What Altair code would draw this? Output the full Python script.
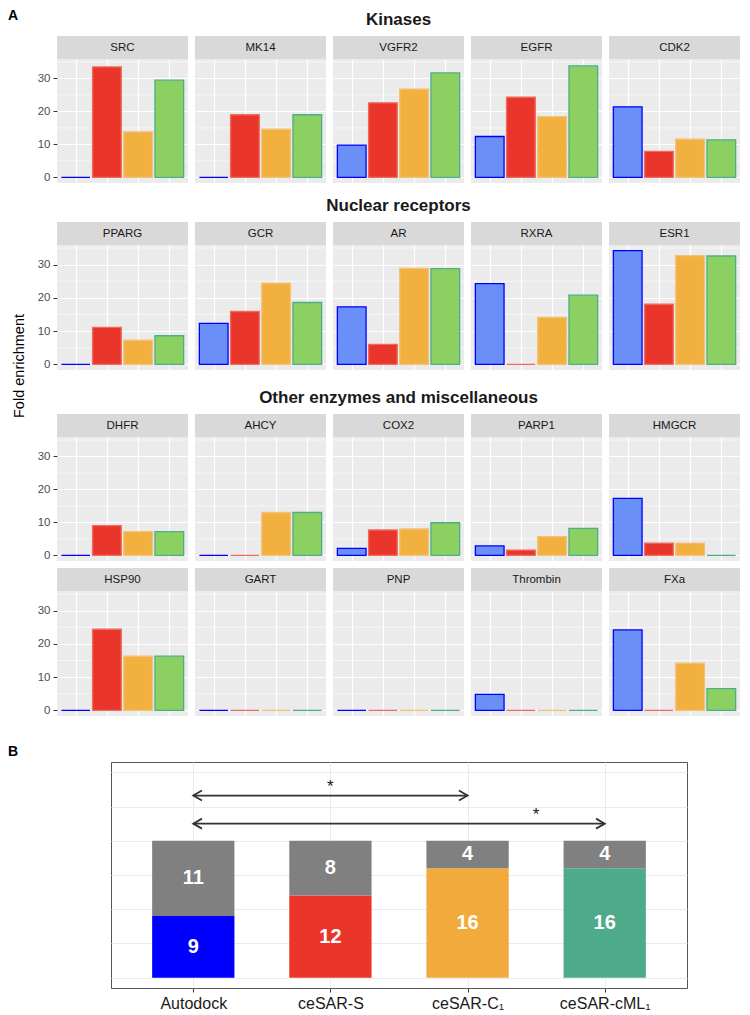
import json
import altair as alt
import pandas as pd

# ---------------- data ----------------
methods = ["Autodock", "ceSAR-S", "ceSAR-C1", "ceSAR-cML1"]
method_pos = [1, 2, 3, 4]
fill_colors = ["#6A8FF7", "#E9352A", "#F2B03F", "#8DD062"]
stroke_colors = ["#0000FF", "#EE6B5F", "#F4C076", "#4DAE8A"]

targets = ["SRC", "MK14", "VGFR2", "EGFR", "CDK2",
           "PPARG", "GCR", "AR", "RXRA", "ESR1",
           "DHFR", "AHCY", "COX2", "PARP1", "HMGCR",
           "HSP90", "GART", "PNP", "Thrombin", "FXa"]
autodock = [0, 0, 9.8, 12.4, 21.4,
            0, 12.3, 17.3, 24.3, 34.2,
            0, 0, 2.1, 2.9, 17.3,
            0, 0, 0, 4.8, 24.2]
cesar_s = [33.5, 19.0, 22.6, 24.3, 7.9,
           11.1, 15.9, 6.0, 0, 18.1,
           9.0, 0, 7.7, 1.6, 3.7,
           24.4, 0, 0, 0, 0]
cesar_c1 = [13.8, 14.6, 26.8, 18.4, 11.6,
            7.25, 24.4, 28.9, 14.1, 32.7,
            7.2, 13.0, 8.0, 5.7, 3.7,
            16.3, 0, 0, 0, 14.2]
cesar_cml1 = [29.5, 19.0, 31.7, 33.8, 11.4,
              8.6, 18.6, 28.8, 20.8, 32.6,
              7.2, 13.0, 9.9, 8.2, 0,
              16.3, 0, 0, 0, 6.5]

row_titles = ["Kinases", "Nuclear receptors", "Other enzymes and miscellaneous", ""]
y_title = "Fold enrichment"
y_major = [0, 10, 20, 30]
y_minor = [5, 15, 25, 35]
y_domain = [-1.71, 35.91]

b_labels = ["Autodock", "ceSAR-S", "ceSAR-C\u2081", "ceSAR-cML\u2081"]
b_hits = [9, 12, 16, 16]
b_misses = [11, 8, 4, 4]
b_hit_colors = ["#0000FF", "#E9352A", "#F2AA3C", "#4DAB8C"]
b_miss_color = "#808080"
b_grid = [0, 5, 10, 15, 20, 25, 30]
arrow_from = [1, 1]
arrow_to = [3, 4]
arrow_y = [26.6, 22.5]
star_x = [2, 3.5]
star_y = [27.9, 23.8]
star_text = ["*", "*"]

FONT = "Liberation Sans"
PW = 131
PGAP = 7
PH = [124, 125, 124, 125]
GAP_ABOVE = [51, 62, 67, 30]


def panel(i, first, row):
    df = pd.DataFrame({"method": methods, "pos": method_pos,
                       "val": [autodock[i], cesar_s[i], cesar_c1[i], cesar_cml1[i]]})
    ys = alt.Scale(domain=y_domain, nice=False, zero=False)
    xs = alt.Scale(domain=[0.4, 4.6], nice=False, zero=False)
    if first:
        yax = alt.Axis(values=y_major, grid=True, gridColor="white", gridWidth=1.2,
                       domain=False, ticks=True, tickColor="#333333", tickSize=4,
                       tickWidth=1, labelColor="#4D4D4D", labelFontSize=11.5,
                       labelPadding=3, title="")
    else:
        yax = alt.Axis(values=y_major, grid=True, gridColor="white", gridWidth=1.2,
                       domain=False, ticks=False, labels=False, title="")
    xax = alt.Axis(values=method_pos, grid=True, gridColor="white", gridWidth=1.2,
                   domain=False, ticks=False, labels=False, title="")
    minor = alt.Chart(pd.DataFrame({"val": y_minor})).mark_rule(
        color="white", strokeWidth=0.6).encode(y=alt.Y("val:Q", scale=ys, axis=yax))
    bars = alt.Chart(df).transform_calculate(
        x0="datum.pos - 0.46", x1="datum.pos + 0.46"
    ).mark_rect(strokeWidth=1.3).encode(
        x=alt.X("x0:Q", scale=xs, axis=xax), x2="x1:Q",
        y=alt.Y("val:Q", scale=ys, axis=yax), y2=alt.datum(0),
        fill=alt.Fill("method:N", scale=alt.Scale(domain=methods, range=fill_colors)),
        stroke=alt.Stroke("method:N", scale=alt.Scale(domain=methods, range=stroke_colors)),
    )
    lab = pd.DataFrame({"t": [targets[i]]})
    strip = alt.Chart(lab).mark_rect(color="#D9D9D9").encode(
        x=alt.value(0), x2=alt.value(PW), y=alt.value(-23), y2=alt.value(0))
    strip_text = alt.Chart(lab).mark_text(fontSize=11.5, color="#1A1A1A").encode(
        text="t:N", x=alt.value(PW / 2), y=alt.value(-11.5))
    layers = [minor, bars, strip, strip_text]
    if first:
        pad = alt.Chart(lab).mark_rect(opacity=0).encode(
            x=alt.value(0), x2=alt.value(1), y=alt.value(-GAP_ABOVE[row]), y2=alt.value(0))
        layers.append(pad)
        if row_titles[row]:
            tt = alt.Chart(pd.DataFrame({"t": [row_titles[row]]})).mark_text(
                fontSize=17, fontWeight="bold", color="#1A1A1A").encode(
                text="t:N", x=alt.value((5 * PW + 4 * PGAP) / 2), y=alt.value(-39))
            layers.append(tt)
    return alt.layer(*layers).properties(
        width=PW, height=PH[row],
        view=alt.ViewBackground(fill="#EBEBEB", strokeWidth=0))


rows = []
for r in range(4):
    panels = [panel(r * 5 + c, c == 0, r) for c in range(5)]
    rows.append(alt.hconcat(*panels, spacing=PGAP, bounds="flush"))

# ---------------- panel B ----------------
recs = []
for k in range(4):
    recs.append({"bpos": method_pos[k], "lo": 0, "hi": b_hits[k], "seg": methods[k], "n": b_hits[k]})
    recs.append({"bpos": method_pos[k], "lo": b_hits[k], "hi": b_hits[k] + b_misses[k],
                 "seg": "miss", "n": b_misses[k]})
bdf = pd.DataFrame(recs)

bxs = alt.Scale(domain=[0.4, 4.6], nice=False, zero=False)
bys = alt.Scale(domain=[-1.5, 31.5], nice=False, zero=False)
label_expr = json.dumps(b_labels, ensure_ascii=False) + "[datum.value - 1]"
bxax = alt.Axis(values=method_pos, labelExpr=label_expr, grid=True, gridColor="#EBEBEB",
                gridWidth=1, domain=False, ticks=True, tickColor="#333333", tickSize=4,
                labelFontSize=16, labelColor="#1A1A1A", labelPadding=3, labelFlush=False,
                title="")
byax = alt.Axis(values=b_grid, grid=True, gridColor="#EBEBEB", gridWidth=1, domain=False,
                ticks=False, labels=False, title="")

b_bars = alt.Chart(bdf).transform_calculate(
    bx0="datum.bpos - 0.3", bx1="datum.bpos + 0.3"
).mark_rect().encode(
    x=alt.X("bx0:Q", scale=bxs, axis=bxax), x2="bx1:Q",
    y=alt.Y("lo:Q", scale=bys, axis=byax), y2="hi:Q",
    fill=alt.Fill("seg:N", scale=alt.Scale(domain=methods + ["miss"],
                                          range=b_hit_colors + [b_miss_color])),
)
b_text = alt.Chart(bdf).transform_calculate(mid="(datum.lo + datum.hi) / 2").mark_text(
    color="white", fontSize=20, fontWeight="bold").encode(
    x=alt.X("bpos:Q", scale=bxs, axis=bxax),
    y=alt.Y("mid:Q", scale=bys, axis=byax),
    text="n:Q")
adf = pd.DataFrame({"ax0": arrow_from, "ax1": arrow_to, "ay": arrow_y})
a_line = alt.Chart(adf).mark_rule(color="#333333", strokeWidth=1.8).encode(
    x=alt.X("ax0:Q", scale=bxs, axis=bxax), x2="ax1:Q",
    y=alt.Y("ay:Q", scale=bys, axis=byax))
a_left = alt.Chart(adf).mark_point(shape="M1.732,-1L0,0L1.732,1", filled=False, size=100,
                                   strokeWidth=1.8, color="#333333", opacity=1).encode(
    x=alt.X("ax0:Q", scale=bxs, axis=bxax), y=alt.Y("ay:Q", scale=bys, axis=byax))
a_right = alt.Chart(adf).mark_point(shape="M-1.732,-1L0,0L-1.732,1", filled=False, size=100,
                                    strokeWidth=1.8, color="#333333", opacity=1).encode(
    x=alt.X("ax1:Q", scale=bxs, axis=bxax), y=alt.Y("ay:Q", scale=bys, axis=byax))
sdf = pd.DataFrame({"sx": star_x, "sy": star_y, "st": star_text})
stars = alt.Chart(sdf).mark_text(fontSize=17, color="#1A1A1A").encode(
    x=alt.X("sx:Q", scale=bxs, axis=bxax), y=alt.Y("sy:Q", scale=bys, axis=byax), text="st:N")
b_pad = alt.Chart(pd.DataFrame({"t": ["B"]})).mark_rect(opacity=0).encode(
    x=alt.value(0), x2=alt.value(1), y=alt.value(-45), y2=alt.value(0))

bchart = alt.layer(b_bars, b_text, a_line, a_left, a_right, stars, b_pad).properties(
    width=576, height=226,
    view=alt.ViewBackground(fill="white", stroke="#555555", strokeWidth=1))

spacer = alt.Chart(pd.DataFrame({"s": [0]})).mark_point(opacity=0).encode(
    x=alt.value(0), y=alt.value(0)).properties(
    width=40, height=226, view=alt.ViewBackground(fill="transparent", strokeWidth=0))
brow = alt.hconcat(spacer, bchart, spacing=14, bounds="flush")

main = alt.vconcat(*rows, brow, spacing=0).resolve_scale(fill="independent", stroke="independent")

# ---------------- side labels (positions relative to the first panel row's top) ----------------
a_txt = alt.Chart(pd.DataFrame({"t": ["A"]})).mark_text(
    fontSize=14, fontWeight="bold", align="left", baseline="top", color="black").encode(
    text="t:N", x=alt.value(0), y=alt.value(-50))
fold = alt.Chart(pd.DataFrame({"t": [y_title]})).mark_text(
    fontSize=14.5, angle=270, color="black").encode(
    text="t:N", x=alt.value(12), y=alt.value(307))
b_txt = alt.Chart(pd.DataFrame({"t": ["B"]})).mark_text(
    fontSize=14, fontWeight="bold", align="left", color="black").encode(
    text="t:N", x=alt.value(0), y=alt.value(693))
side = alt.layer(a_txt, fold, b_txt).properties(
    width=20, height=700, view=alt.ViewBackground(fill="transparent", strokeWidth=0))

chart = alt.hconcat(side, main, spacing=9).properties(padding=0).configure(
    font=FONT).configure_view(strokeWidth=0).configure_legend(disable=True)

chart.save("out.html", embed_options={"renderer": "svg", "actions": False})
